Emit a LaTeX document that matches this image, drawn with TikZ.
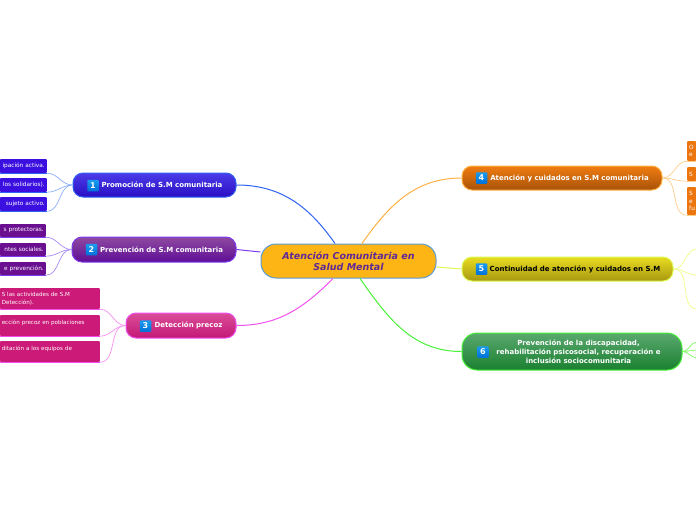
\documentclass[tikz,border=0pt]{standalone}
\usepackage{fontspec}
\setmainfont{DejaVu Sans}
\usepackage{tikz}
\usetikzlibrary{positioning}
\usepackage{xcolor}
\definecolor{titlecol}{HTML}{5F2A96}
\definecolor{rootfill}{HTML}{FDB515}
\definecolor{rootline}{HTML}{5B9BD5}
\definecolor{icontop}{HTML}{1A9CF0}
\definecolor{iconbot}{HTML}{0070D8}
\definecolor{blueline}{HTML}{2F62F0}
\definecolor{bluelink}{HTML}{8AB0FA}
\definecolor{blueleaf}{HTML}{3A0FE0}
\definecolor{violetline}{HTML}{7E3CF0}
\definecolor{violetlink}{HTML}{A98AF5}
\definecolor{violetleaf}{HTML}{6A0F90}
\definecolor{pinkline}{HTML}{F050F0}
\definecolor{pinklink}{HTML}{F590F0}
\definecolor{pinkleaf}{HTML}{CC1A78}
\definecolor{orangeline}{HTML}{FFB040}
\definecolor{orangelink}{HTML}{FFCC88}
\definecolor{orangeleaf}{HTML}{EC750E}
\definecolor{yellowline}{HTML}{DDF850}
\definecolor{yellowlink}{HTML}{EEFF88}
\definecolor{greenline}{HTML}{45F035}
\definecolor{greenlink}{HTML}{78FF58}

\begin{document}
\begin{tikzpicture}[
      x=1pt, y=-1pt,
      root/.style={draw=rootline, line width=1pt, rounded corners=15pt, fill=rootfill, minimum width=175pt, minimum height=34pt, align=center, text=titlecol, font=\fontsize{9.5}{11}\selectfont\bfseries\itshape},
      topic/.style={line width=1pt, rounded corners=10pt, minimum height=24pt, align=center, text=white, inner sep=0pt, font=\fontsize{7}{9}\selectfont\bfseries},
      icon/.style={rounded corners=1pt, top color=icontop, bottom color=iconbot, text=white, minimum size=11.5pt, inner sep=0pt, font=\fontsize{8}{9}\selectfont\bfseries},
      leaf/.style={rounded corners=1pt, inner ysep=0pt, inner xsep=2pt, text=white, font=\fontsize{5.8}{7.5}\selectfont},
      wideleaf/.style={leaf, minimum height=21pt, text width=96pt, align=left, anchor=east, fill=pinkleaf, font=\fontsize{5.6}{7.5}\selectfont},
      link/.style={line width=0.7pt},
      branch/.style={line width=1pt}
    ]
    \useasboundingbox (0,0) rectangle (696,520);

    % free ends past the page edge
    \coordinate (e1) at (697,249);
    \coordinate (e2) at (697,275);
    \coordinate (e3) at (697,309);
    \coordinate (f1) at (697,342);
    \coordinate (f2) at (697,350);
    \coordinate (f3) at (697,358);

    \node[root] (root) at (348.5,261) {Atención Comunitaria en\\Salud Mental};

    % left side
    \node[topic, draw=blueline, top color={rgb,255:red,75;green,60;blue,232}, bottom color={rgb,255:red,42;green,14;blue,196}, minimum width=163pt] (t1) at (154.5,185) {\hspace{15pt}Promoción de S.M comunitaria};
    \node[topic, draw=violetline, top color={rgb,255:red,143;green,74;blue,160}, bottom color={rgb,255:red,94;green,14;blue,150}, minimum width=164pt, minimum height=25pt] (t2) at (154,249.5) {\hspace{15pt}Prevención de S.M comunitaria};
    \node[topic, draw=pinkline, top color={rgb,255:red,218;green,78;blue,152}, bottom color={rgb,255:red,196;green,24;blue,118}, minimum width=110pt, minimum height=25pt] (t3) at (181,325.5) {\hspace{15pt}Detección precoz};
    \node[icon] (n1) at (93,185.5) {1};
    \node[icon] (n2) at (91.5,249.5) {2};
    \node[icon] (n3) at (145.5,326) {3};

    % right side
    \node[topic, draw=orangeline, top color={rgb,255:red,240;green,124;blue,16}, bottom color={rgb,255:red,168;green,82;blue,8}, minimum width=200pt] (t4) at (562,178) {\hspace{15pt}Atención y cuidados en S.M comunitaria};
    \node[topic, draw=yellowline, top color={rgb,255:red,232;green,220;blue,32}, bottom color={rgb,255:red,168;green,152;blue,16}, text=black, minimum width=211pt] (t5) at (567.5,269) {\hspace{15pt}Continuidad de atención y cuidados en S.M};
    \node[topic, draw=greenline, top color={rgb,255:red,90;green,168;blue,110}, bottom color={rgb,255:red,26;green,128;blue,48}, minimum width=220pt, minimum height=37pt, rounded corners=15pt] (t6) at (572,351.5) {\hspace{13pt}Prevención de la discapacidad,\\\hspace{13pt}rehabilitación psicosocial, recuperación e\\\hspace{13pt}inclusión sociocomunitaria};
    \node[icon] (n4) at (481.5,178) {4};
    \node[icon] (n5) at (481.5,269) {5};
    \node[icon] (n6) at (483,352) {6};

    % leaves
    \node[leaf, fill=blueleaf, minimum height=14pt, text width=43pt, align=right, anchor=east] (a1) at (47,166) {ipación activa.};
    \node[leaf, fill=blueleaf, minimum height=14pt, text width=43pt, align=right, anchor=east] (a2) at (47,185) {los solidarios).};
    \node[leaf, fill=blueleaf, minimum height=14pt, text width=43pt, align=right, anchor=east] (a3) at (47,204) {sujeto activo.};
    \node[leaf, fill=violetleaf, minimum height=13pt, text width=42pt, align=right, anchor=east] (b1) at (46,230.5) {s protectoras.};
    \node[leaf, fill=violetleaf, minimum height=13pt, text width=42pt, align=right, anchor=east] (b2) at (46,249.5) {ntes sociales.};
    \node[leaf, fill=violetleaf, minimum height=13pt, text width=42pt, align=right, anchor=east] (b3) at (46,268.5) {e prevención.};
    \node[wideleaf] (c1) at (100,298.5) {S las actividades de S.M\\Detección).};
    \node[wideleaf, text depth=7pt] (c2) at (100,325.5) {ección precoz en poblaciones};
    \node[wideleaf, text depth=7pt] (c3) at (100,351.5) {ditación a los equipos de};
    \node[leaf, fill=orangeleaf, minimum height=20pt, text width=5pt, align=left, anchor=west] (d1) at (687,151) {O\\e};
    \node[leaf, fill=orangeleaf, minimum height=14pt, text width=5pt, align=left, anchor=west] (d2) at (687,174) {S};
    \node[leaf, fill=orangeleaf, minimum height=28pt, text width=5pt, align=left, anchor=west] (d3) at (687,201) {S\\e\\fu};

    % main branches
    \draw[branch, blueline] (t1.east) to[out=0, in=125] ([xshift=-13.5pt]root.north);
    \draw[branch, violetline] (t2.east) -- ([yshift=9pt]root.west);
    \draw[branch, pinkline] (t3.east) to[out=0, in=-135] ([xshift=-15.5pt]root.south);
    \draw[branch, orangeline] (t4.west) to[out=180, in=55] ([xshift=13.5pt]root.north);
    \draw[branch, yellowline] (t5.west) -- ([yshift=-6pt]root.east);
    \draw[branch, greenline] (t6.west) to[out=180, in=-55] ([xshift=11.5pt]root.south);

    % leaf links
    \foreach \i in {1,2,3} {
      \draw[link, bluelink] (t1.west) to[out=180, in=0] (a\i.south east);
      \draw[link, blueline] (a\i.south east) -- (a\i.south west);
      \draw[link, violetlink] (t2.west) to[out=180, in=0] (b\i.south east);
      \draw[link, violetline] (b\i.south east) -- (b\i.south west);
      \draw[link, pinklink] (t3.west) to[out=180, in=0] (c\i.south east);
      \draw[link, pinkline] (c\i.south east) -- (c\i.south west);
      \draw[link, orangelink] (t4.east) to[out=0, in=180] (d\i.south west);
      \draw[link, orangelink] (d\i.south west) -- (d\i.south east);
      \draw[link, yellowlink] (t5.east) to[out=0, in=180] (e\i);
      \draw[link, greenlink] (t6.east) to[out=0, in=180] (f\i);
    }
  \end{tikzpicture}
\end{document}
